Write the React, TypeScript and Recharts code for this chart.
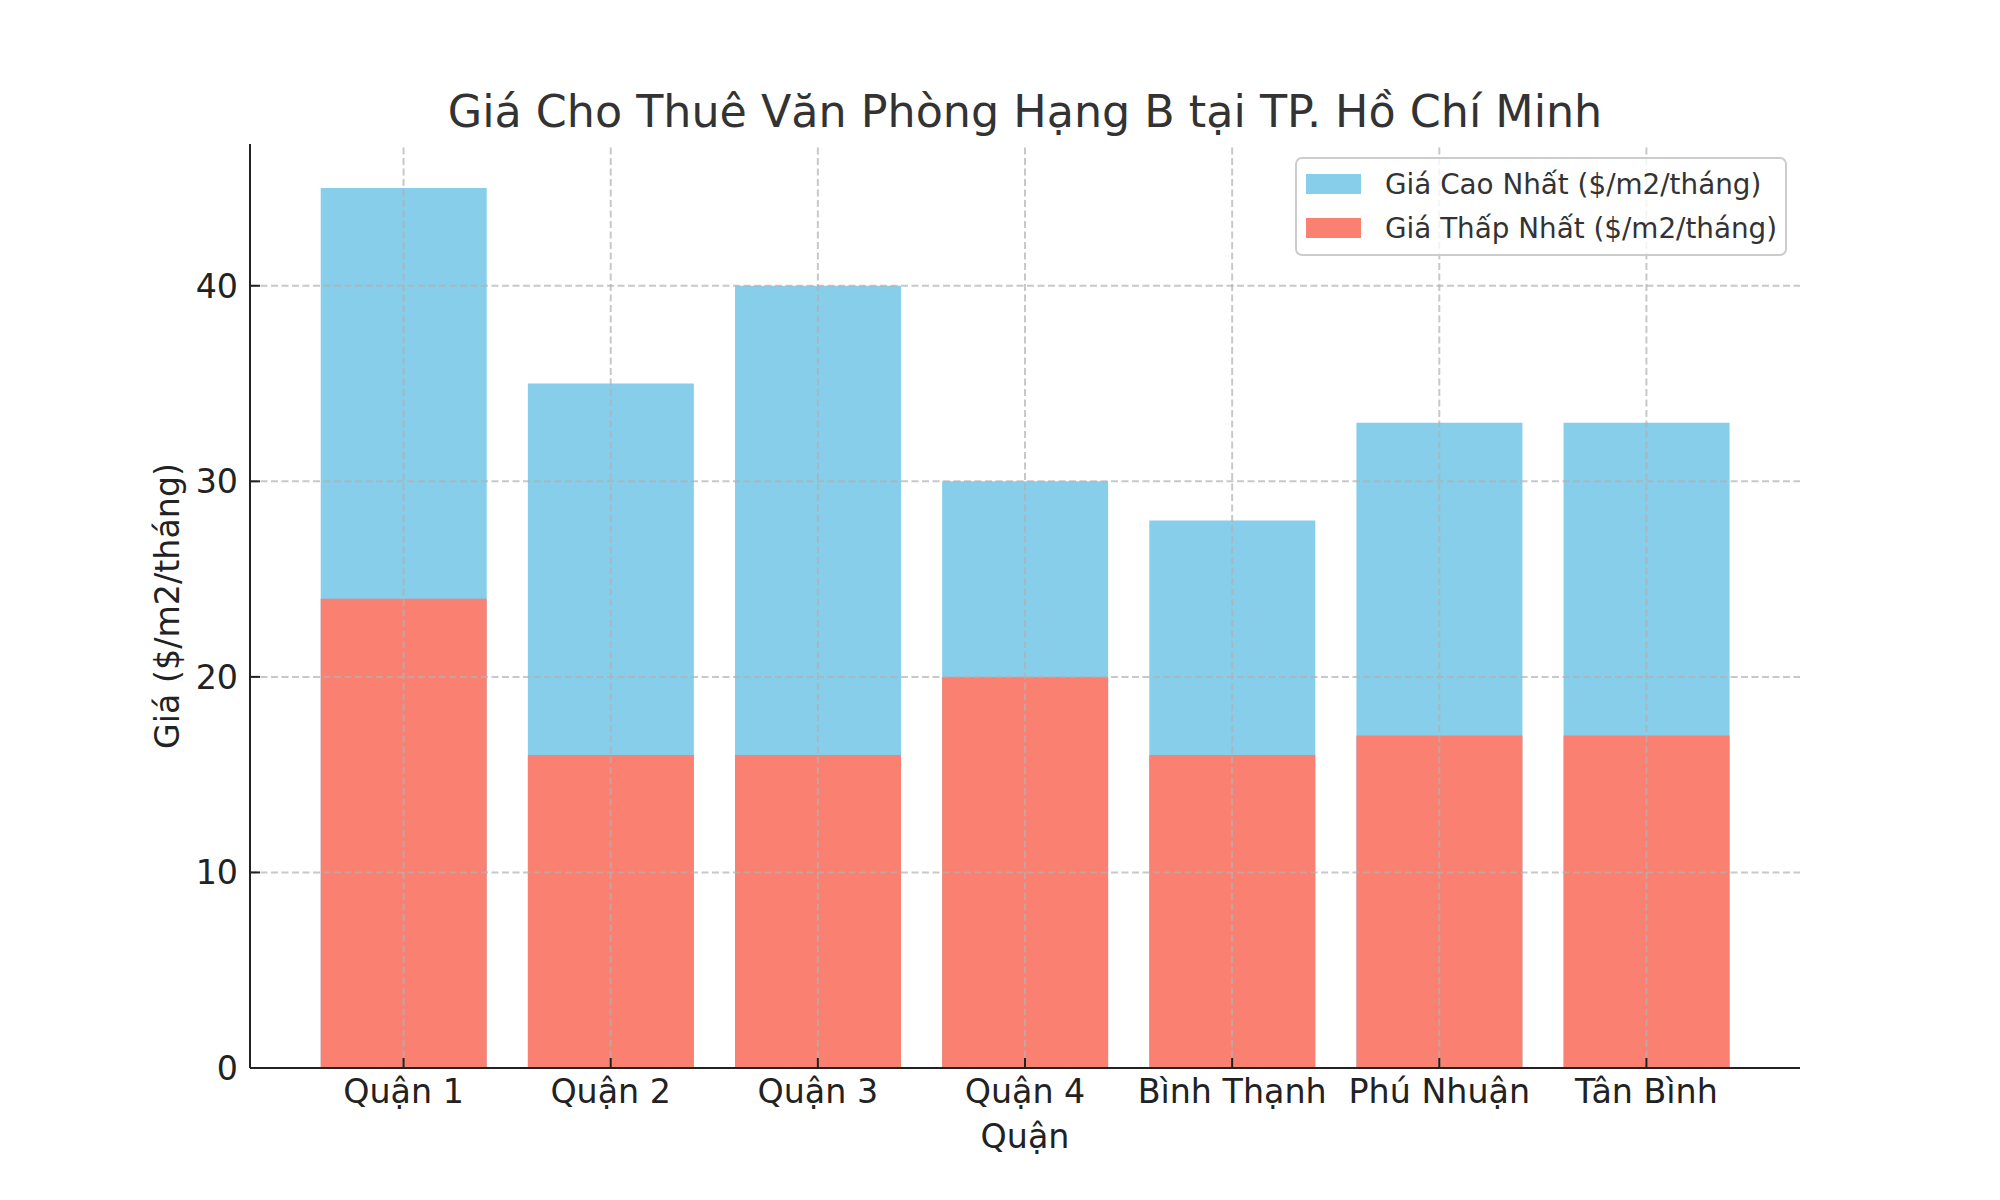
import { BarChart, Bar, XAxis, YAxis, ReferenceLine, Label } from 'recharts'

const DISTRICTS = ['Quận 1', 'Quận 2', 'Quận 3', 'Quận 4', 'Bình Thạnh', 'Phú Nhuận', 'Tân Bình']
const MAX_PRICE = [45, 35, 40, 30, 28, 33, 33]
const MIN_PRICE = [24, 16, 16, 20, 16, 17, 17]
const Y_TICKS = [0, 10, 20, 30, 40]

const SERIES = [
  { key: 'max', name: 'Giá Cao Nhất ($/m2/tháng)', color: '#87CEEB', axis: 'main' },
  { key: 'min', name: 'Giá Thấp Nhất ($/m2/tháng)', color: '#FA8072', axis: 'over' },
]

const TITLE = 'Giá Cho Thuê Văn Phòng Hạng B tại TP. Hồ Chí Minh'
const X_LABEL = 'Quận'
const Y_LABEL = 'Giá ($/m2/tháng)'

const FONT = '"DejaVu Sans", sans-serif'
const TICK_FONT = 33.3
const INK = '#222'
// matplotlib grid sits above the bars, so draw it with reference lines
const GRID = { stroke: '#b0b0b0', strokeOpacity: 0.7, strokeWidth: 2, strokeDasharray: '7 3.5' }

const data = DISTRICTS.map((name, i) => ({ name, max: MAX_PRICE[i], min: MIN_PRICE[i] }))

function YLabel({ viewBox }: any) {
  const cx = viewBox.x + viewBox.width - 83
  const cy = viewBox.y + viewBox.height / 2
  return (
    <text x={cx} y={cy} dy="0.36em" transform={`rotate(-90 ${cx} ${cy})`} textAnchor="middle"
      fontSize={TICK_FONT} fill={INK} fontFamily={FONT}>
      {Y_LABEL}
    </text>
  )
}

function XLabel({ viewBox }: any) {
  return (
    <text x={viewBox.x + viewBox.width / 2} y={viewBox.y + 80} textAnchor="middle"
      fontSize={TICK_FONT} fill={INK} fontFamily={FONT}>
      {X_LABEL}
    </text>
  )
}

// legend sits in its own svg on top so the grid shows only faintly through it
function LegendBox() {
  return (
    <svg width={2000} height={1200} style={{ position: 'absolute', left: 0, top: 0, pointerEvents: 'none' }}>
      <rect x={1296} y={158} width={490} height={97} rx={6} fill="#fff" fillOpacity={0.8} stroke="#cccccc" strokeWidth={2} />
      {SERIES.map((s, i) => (
        <g key={s.key}>
          <rect x={1306} y={174 + i * 44} width={55} height={20} fill={s.color} />
          <text x={1385} y={194 + i * 44} fontSize={27.8} fill="#333" fontFamily={FONT}>{s.name}</text>
        </g>
      ))}
    </svg>
  )
}

export default function App() {
  return (
    <div style={{ position: 'absolute', left: 0, top: 0, width: 2000, height: 1200, background: '#fff', fontFamily: FONT }}>
      <BarChart
        width={2000}
        height={1200}
        data={data}
        margin={{ top: 144, right: 200, bottom: 52, left: 150 }}
        barCategoryGap="10%"
        style={{ fontFamily: FONT }}
      >
        <XAxis
          xAxisId="main"
          dataKey="name"
          height={80}
          padding={{ left: 50, right: 50 }}
          tickSize={-10}
          tickMargin={21}
          axisLine={{ stroke: INK, strokeWidth: 2 }}
          tickLine={{ stroke: INK, strokeWidth: 2 }}
          tick={{ fontSize: TICK_FONT, fill: INK, fontFamily: FONT }}
          interval={0}
        >
          <Label content={XLabel} />
        </XAxis>
        <XAxis xAxisId="over" dataKey="name" hide padding={{ left: 50, right: 50 }} />
        <YAxis
          width={100}
          domain={[0, 47.25]}
          ticks={Y_TICKS}
          tickSize={-10}
          tickMargin={22}
          axisLine={{ stroke: INK, strokeWidth: 2 }}
          tickLine={{ stroke: INK, strokeWidth: 2 }}
          tick={{ fontSize: TICK_FONT, fill: INK, fontFamily: FONT }}
        >
          <Label content={YLabel} />
        </YAxis>
        {SERIES.map((s) => (
          <Bar key={s.key} xAxisId={s.axis} dataKey={s.key} name={s.name} fill={s.color} isAnimationActive={false} />
        ))}
        {Y_TICKS.map((t) => (
          <ReferenceLine key={`h${t}`} xAxisId="main" y={t} {...GRID} />
        ))}
        {DISTRICTS.map((d) => (
          <ReferenceLine key={`v${d}`} xAxisId="main" x={d} {...GRID} />
        ))}
        <text x={1025} y={127} textAnchor="middle" fontSize={44.4} fill="#333" fontFamily={FONT}>{TITLE}</text>
      </BarChart>
      <LegendBox />
    </div>
  )
}
